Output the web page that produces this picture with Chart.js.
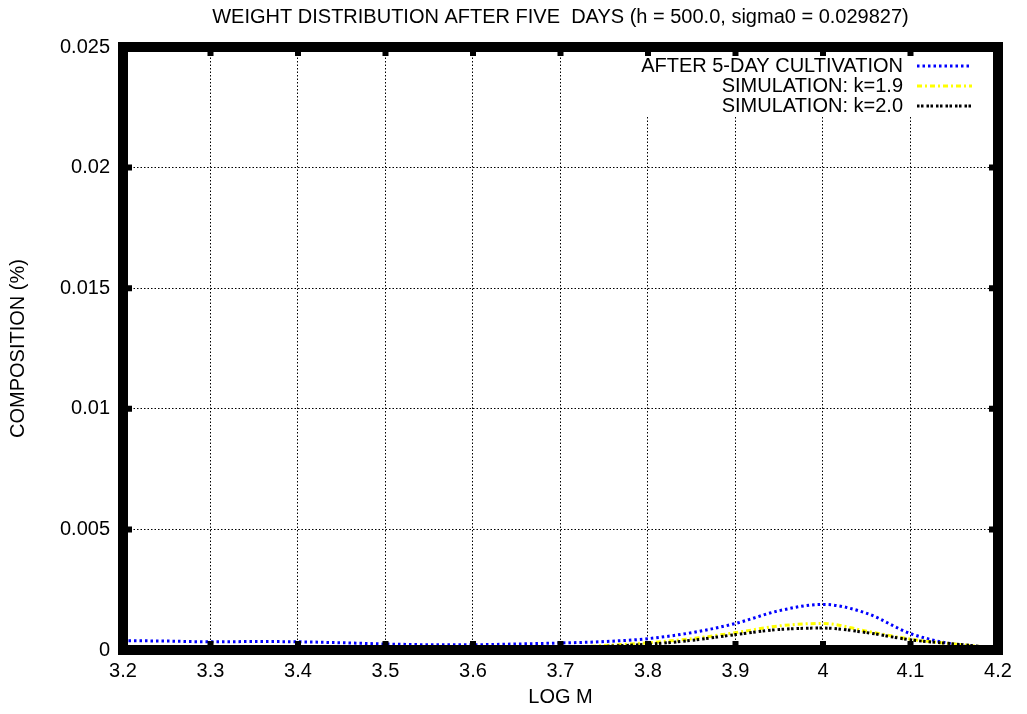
<!DOCTYPE html>
<html><head><meta charset="utf-8">
<script src="https://cdn.jsdelivr.net/npm/chart.js@4"></script>
<style>html,body{margin:0;padding:0;background:#fff;} canvas{display:block;}</style>
</head><body>
<canvas id="c" width="1027" height="714"></canvas>
<script>
const chartTitle = 'WEIGHT DISTRIBUTION AFTER FIVE  DAYS (h = 500.0, sigma0 = 0.029827)';
const xTitle = 'LOG M';
const yTitle = 'COMPOSITION (%)';
const seriesNames = ['AFTER 5-DAY CULTIVATION', 'SIMULATION: k=1.9', 'SIMULATION: k=2.0'];
const xTickLabels = ['3.2','3.3','3.4','3.5','3.6','3.7','3.8','3.9','4','4.1','4.2'];
const yTickLabels = ['0','0.005','0.01','0.015','0.02','0.025'];

const logM        = [3.20, 3.25, 3.30, 3.35, 3.40, 3.45, 3.50, 3.55, 3.60, 3.65, 3.70, 3.75, 3.80, 3.85, 3.90, 3.95, 4.00, 4.05, 4.10, 4.15, 4.20];
const cultivation = [0.00039,0.00037,0.00034,0.00035,0.00034,0.00030,0.00025,0.00022,0.00022,0.00025,0.00029,0.00035,0.00047,0.00072,0.00110,0.00163,0.00189,0.00152,0.00068,0.00024,0.00009];
const simK19      = [0.00003,0.00003,0.00003,0.00003,0.00003,0.00003,0.00003,0.00003,0.00004,0.00006,0.00010,0.00019,0.00030,0.00047,0.00072,0.00100,0.00110,0.00078,0.00045,0.00025,0.00008];
const simK20      = [0.00002,0.00002,0.00002,0.00002,0.00002,0.00002,0.00002,0.00002,0.00003,0.00005,0.00008,0.00015,0.00024,0.00040,0.00064,0.00085,0.00091,0.00072,0.00042,0.00025,0.00008];

const FONT = '"Liberation Sans", Arial, Helvetica, sans-serif';
Chart.defaults.font.family = FONT;
Chart.defaults.font.size = 20;
Chart.defaults.color = '#000';

function pts(ys){ return logM.map((x,i)=>({x:x, y:ys[i]})); }

const styles = [
  {color:'#0000ff', dash:[2.5,3]},
  {color:'#ffff00', dash:[5,3,2,3]},
  {color:'#000000', dash:[2.5,1.5,2.5,3]}
];

const frame = {
  id:'frame',
  beforeDatasetsDraw(chart){
    const ctx = chart.ctx;
    ctx.save();
    ctx.fillStyle = '#fff';
    ctx.fillRect(628, 53, 364, 64);
    ctx.restore();
  },
  afterDraw(chart){
    const {ctx, chartArea:a, scales} = chart;
    ctx.save();
    // title
    ctx.fillStyle = '#000';
    ctx.font = '20px ' + FONT;
    ctx.textAlign = 'center';
    ctx.textBaseline = 'middle';
    ctx.fillText(chartTitle, (a.left + a.right)/2, 17);
    // legend
    ctx.textAlign = 'right';
    chart.data.datasets.forEach((ds,i)=>{
      const y = 66 + i*20;
      ctx.fillStyle = '#000';
      ctx.fillText(ds.label, 903, y);
      ctx.beginPath();
      ctx.setLineDash(ds.borderDash);
      ctx.strokeStyle = ds.borderColor;
      ctx.lineWidth = ds.borderWidth;
      ctx.moveTo(917, y); ctx.lineTo(972, y);
      ctx.stroke();
    });
    ctx.setLineDash([]);
    // ticks
    ctx.strokeStyle = '#000';
    ctx.lineWidth = 6;
    scales.x.ticks.forEach(t=>{
      const px = scales.x.getPixelForValue(t.value);
      ctx.beginPath();
      ctx.moveTo(px, a.bottom); ctx.lineTo(px, a.bottom - 9);
      ctx.moveTo(px, a.top); ctx.lineTo(px, a.top + 9);
      ctx.stroke();
    });
    scales.y.ticks.forEach(t=>{
      const py = scales.y.getPixelForValue(t.value);
      ctx.beginPath();
      ctx.moveTo(a.left, py); ctx.lineTo(a.left + 9, py);
      ctx.moveTo(a.right, py); ctx.lineTo(a.right - 9, py);
      ctx.stroke();
    });
    // border
    ctx.lineWidth = 10;
    ctx.strokeRect(a.left, a.top, a.right - a.left, a.bottom - a.top);
    ctx.restore();
  }
};

function findLabel(list, v){
  const s = list.find(l => Math.abs(parseFloat(l) - v) < 1e-7);
  return s === undefined ? '' : s;
}

new Chart(document.getElementById('c'), {
  type:'line',
  data:{
    datasets:[
      {label:seriesNames[0], data:pts(cultivation), borderColor:styles[0].color, borderDash:styles[0].dash, order:3},
      {label:seriesNames[1], data:pts(simK19), borderColor:styles[1].color, borderDash:styles[1].dash, order:2},
      {label:seriesNames[2], data:pts(simK20), borderColor:styles[2].color, borderDash:styles[2].dash, order:1}
    ].map(d=>Object.assign(d,{borderWidth:3, pointRadius:0, fill:false, cubicInterpolationMode:'monotone', borderCapStyle:'butt'}))
  },
  options:{
    responsive:false, animation:false, devicePixelRatio:1,
    layout:{padding:{top:47, right:29, left:0, bottom:0}},
    plugins:{legend:{display:false}, tooltip:{enabled:false}, title:{display:false}},
    scales:{
      x:{
        type:'linear', min:3.2, max:4.2,
        ticks:{stepSize:0.1, padding:9, maxRotation:0, autoSkip:false, callback:(v)=>findLabel(xTickLabels, v)},
        grid:{color:'#000', lineWidth:1, drawTicks:false},
        border:{display:false, dash:[1.5,2]},
        title:{display:true, text:xTitle, padding:{top:0, bottom:5}},
        afterFit(s){ s.height = 64; }
      },
      y:{
        type:'linear', min:0, max:0.025,
        ticks:{stepSize:0.005, padding:13, callback:(v)=>findLabel(yTickLabels, v)},
        grid:{color:'#000', lineWidth:1, drawTicks:false},
        border:{display:false, dash:[1.5,2]},
        title:{display:true, text:yTitle, padding:{top:6, bottom:0}},
        afterFit(s){ s.width = 123; }
      }
    }
  },
  plugins:[frame]
});
</script>
</body></html>
